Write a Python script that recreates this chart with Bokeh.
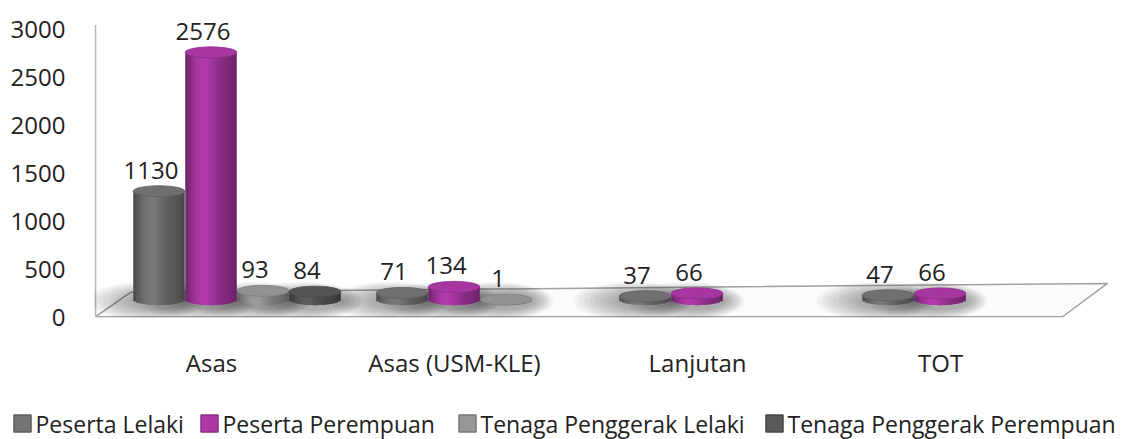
import math
from bokeh.plotting import figure
from bokeh.layouts import column
from bokeh.models import Range1d, ColumnDataSource, FixedTicker
from bokeh.core.properties import value
from bokeh.embed import file_html
from bokeh.resources import INLINE

# ---------------- data ----------------
categories = ["Asas", "Asas (USM-KLE)", "Lanjutan", "TOT"]
series_names = ["Peserta Lelaki", "Peserta Perempuan",
                "Tenaga Penggerak Lelaki", "Tenaga Penggerak Perempuan"]
peserta_lelaki = [1130, 71, 37, 47]
peserta_perempuan = [2576, 134, 66, 66]
tenaga_lelaki = [93, 1, None, None]
tenaga_perempuan = [84, None, None, None]
y_ticks = [0, 500, 1000, 1500, 2000, 2500, 3000]

series_values = [peserta_lelaki, peserta_perempuan, tenaga_lelaki, tenaga_perempuan]
series_rgb = [(108, 108, 108), (160, 52, 154), (140, 140, 140), (82, 82, 82)]

# ---------------- style / geometry ----------------
FONT = "Open Sans"
TXT = "#222222"
W = 1139
H_MAIN, H_LEG = 381, 58
Y_PX = 0.0973            # pixels per data unit (vertical)
BASE = 185               # depth offset of the bar bases (3-D floor)
SLOT = 0.214             # slot width within a group
BAR_W = 0.212
EH = 11                  # ellipse height in px
NHALF = 9
LEG_X = [13, 200, 458, 765]   # legend entry left edges (px, legend strip)


def hexc(rgb, f):
    return "#%02x%02x%02x" % tuple(max(0, min(255, int(round(c * f)))) for c in rgb)


def shade(t):
    return 0.80 + 0.32 * math.exp(-((t - 0.36) / 0.26) ** 2) - 0.18 * abs(2 * t - 1) ** 5


p = figure(width=W, height=H_MAIN, output_backend="svg", toolbar_location=None,
           x_range=Range1d(-0.5905, 3.656), y_range=Range1d(0, 3176),
           min_border_left=93, min_border_right=14, min_border_top=12, min_border_bottom=60,
           background_fill_color="white", border_fill_color="white")
p.frame_align = False
p.outline_line_color = None
p.grid.visible = False

# y axis
p.yaxis.ticker = FixedTicker(ticks=y_ticks)
p.yaxis.axis_line_color = None
p.yaxis.major_tick_line_color = None
p.yaxis.minor_tick_line_color = None
p.yaxis.major_tick_out = 0
p.yaxis.major_label_standoff = 28
p.yaxis.major_label_text_font = FONT
p.yaxis.major_label_text_font_size = "24px"
p.yaxis.major_label_text_color = TXT

# x axis (category labels sit slightly left of the groups: perspective)
tick_pos = [round(i - 0.105, 3) for i in range(len(categories))]
p.xaxis.ticker = FixedTicker(ticks=tick_pos)
p.xaxis.major_label_overrides = {t: c for t, c in zip(tick_pos, categories)}
p.xaxis.axis_line_color = None
p.xaxis.major_tick_line_color = None
p.xaxis.minor_tick_line_color = None
p.xaxis.major_tick_out = 0
p.xaxis.major_label_standoff = 28
p.xaxis.major_label_text_font = FONT
p.xaxis.major_label_text_font_size = "24px"
p.xaxis.major_label_text_color = TXT

# floor and wall
p.patch([-0.582, 3.397, 3.582, -0.438], [8, 8, 355, 262],
        fill_color="#fbfbfb", line_color="#a0a0a0", line_width=1.5)
p.segment(x0=[-0.582], y0=[8], x1=[-0.582], y1=[3045], line_color="#b8b8b8", line_width=1.5)

# gather bars
bars = []
for k, vals in enumerate(series_values):
    for i, v in enumerate(vals):
        if v is None:
            continue
        bars.append((k, i + (k - 1.5) * SLOT, v))

# soft shadows
sh = dict(x=[], y=[], w=[], h=[])
for k, xc, v in bars:
    for n in range(9):
        f = n / 8.0
        sh["x"].append(xc - 0.05 * (1 - f))
        sh["y"].append(BASE - 12)
        sh["w"].append(BAR_W * (2.3 - 1.15 * f))
        sh["h"].append(38 - 20 * f)
p.ellipse(x="x", y="y", width="w", height="h", height_units="screen", source=ColumnDataSource(sh),
          fill_color="black", fill_alpha=0.04, line_color=None)

# cylinders: overlapping strips (no seams), rounded bottoms
for k, xc, v in bars:
    rgb = series_rgb[k]
    left = xc - BAR_W / 2
    right = xc + BAR_W / 2
    sw = BAR_W / (2 * NHALF)
    sx, swd, st, sb, sc = [], [], [], [], []
    for j in range(NHALF):
        t = (j + 0.5) / (2 * NHALF)
        a = left + j * sw
        b = xc + sw * 0.3
        sx.append((a + b) / 2); swd.append(b - a)
        st.append(v + BASE)
        sb.append(BASE - (EH / 2) * math.sqrt(max(0.0, 1 - (2 * t - 1) ** 2)) / Y_PX)
        sc.append(hexc(rgb, shade(t)))
    for m in range(NHALF):
        t = 1 - (m + 0.5) / (2 * NHALF)
        a = xc - sw * 0.3 if m == NHALF - 1 else xc
        b = right - m * sw
        sx.append((a + b) / 2); swd.append(b - a)
        st.append(v + BASE)
        sb.append(BASE - (EH / 2) * math.sqrt(max(0.0, 1 - (2 * t - 1) ** 2)) / Y_PX)
        sc.append(hexc(rgb, shade(t)))
    p.vbar(x="x", top="top", bottom="bottom", width="w", fill_color="c", line_color=None,
           source=ColumnDataSource(dict(x=sx, w=swd, top=st, bottom=sb, c=sc)))
    p.ellipse(x=[xc], y=[v + BASE], width=BAR_W, height=EH, height_units="screen",
              fill_color=hexc(rgb, 1.04), line_color=hexc(rgb, 0.9), line_width=0.8)

# data labels
lab = dict(x=[b[1] for b in bars], y=[b[2] + BASE for b in bars], t=[str(b[2]) for b in bars])
p.text(x="x", y="y", text="t", source=ColumnDataSource(lab), x_offset=-8, y_offset=-21,
       text_align="center", text_baseline="alphabetic", text_font=value(FONT),
       text_font_size="24px", text_color=TXT)

# legend strip (separate, axis-less figure below the chart; pixel coordinates)
lf = figure(width=W, height=H_LEG, output_backend="svg", toolbar_location=None,
            x_range=Range1d(0, W), y_range=Range1d(0, H_LEG),
            x_axis_location=None, y_axis_location=None,
            min_border=0, background_fill_color="white", border_fill_color="white")
lf.frame_align = False
lf.outline_line_color = None
lf.grid.visible = False
lf.rect(x=[x + 9 for x in LEG_X], y=[16] * 4, width=17, height=17,
        fill_color=[hexc(c, 1.08) for c in series_rgb],
        line_color=[hexc(c, 0.85) for c in series_rgb], line_width=1.5)
lf.text(x=[x + 22 for x in LEG_X], y=[16] * 4, text=series_names,
        text_align="left", text_baseline="middle", text_font=value(FONT),
        text_font_size="23px", text_color=TXT)

open("out.html", "w").write(file_html(column(p, lf, spacing=0), INLINE))
